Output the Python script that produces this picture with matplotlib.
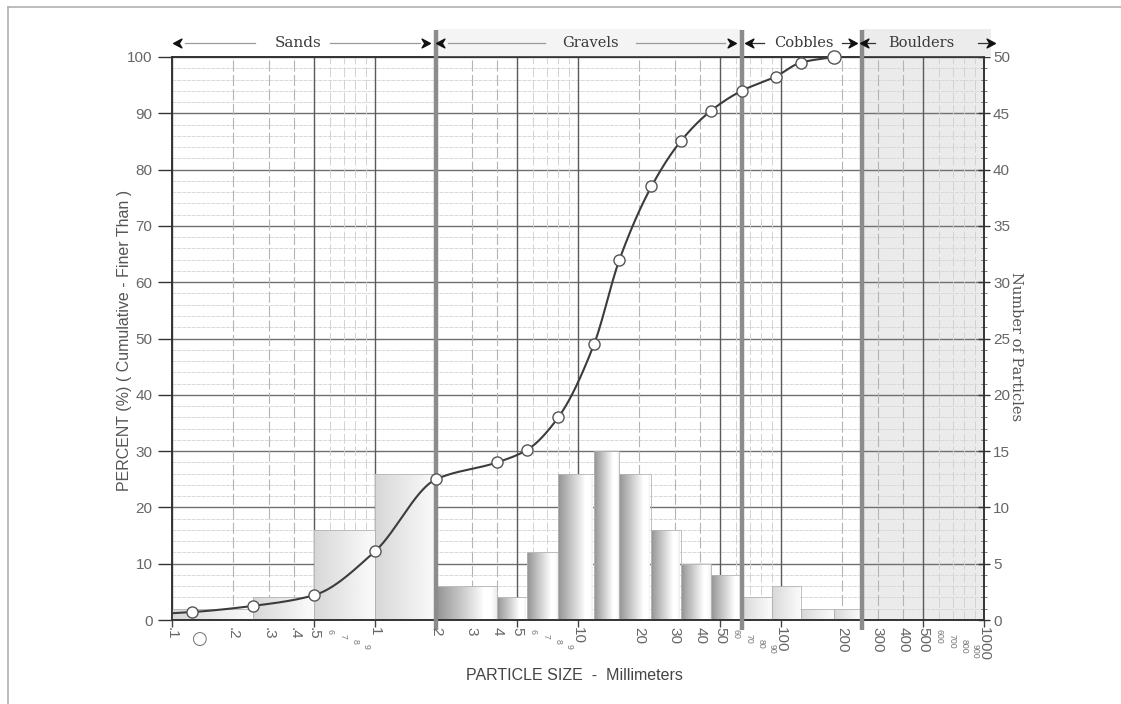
import numpy as np
import matplotlib
matplotlib.use("Agg")
import matplotlib.pyplot as plt
from matplotlib.transforms import blended_transform_factory
from matplotlib.path import Path
from matplotlib.lines import Line2D
from matplotlib.patches import Rectangle
from matplotlib.ticker import NullLocator

# ---- particle-count histogram (size classes, mm) ----
bin_edges = [0.1, 0.25, 0.5, 1, 2, 4, 5.6, 8, 12, 16, 23, 32, 45, 64, 90, 125, 182, 250]
particle_counts = [1, 2, 8, 13, 3, 2, 6, 13, 15, 13, 8, 5, 4, 2, 3, 1, 1]
bar_style = ["sand"] * 4 + ["gravel"] * 9 + ["sand"] * 4

# ---- cumulative percent finer than ----
sieve_sizes = [0.125, 0.25, 0.5, 1, 2, 4, 5.6, 8, 12, 16, 23, 32, 45, 64, 94, 125, 182]
percent_finer = [1.4, 2.5, 4.4, 12.2, 25, 28, 30.2, 36, 49, 64, 77, 85, 90.4, 94, 96.5, 99, 100]
curve_start = (0.1, 1.2)

# ---- size classes ----
class_bounds = [2, 64, 250]
class_names = ["Sands", "Gravels", "Cobbles", "Boulders"]

# ---- x tick labels ----
main_ticks = [0.1, 0.2, 0.3, 0.4, 0.5, 1, 2, 3, 4, 5, 10, 20, 30, 40, 50,
              100, 200, 300, 400, 500, 1000]
main_labels = [".1", ".2", ".3", ".4", ".5", "1", "2", "3", "4", "5", "10", "20",
               "30", "40", "50", "100", "200", "300", "400", "500", "1000"]
small_ticks = [[0.6, 0.7, 0.8, 0.9], [6, 7, 8, 9], [60, 70, 80, 90], [600, 700, 800, 900]]
small_labels = [["6", "7", "8", "9"], ["6", "7", "8", "9"],
                ["60", "70", "80", "90"], ["600", "700", "800", "900"]]

SANS = ["Liberation Sans", "DejaVu Sans"]
SERIF = ["DejaVu Serif"]
plt.rcParams["font.family"] = SANS

W, H = 1121, 704
fig = plt.figure(figsize=(W / 100, H / 100), dpi=100)
fig.patch.set_facecolor("white")

left, right, top, bottom = 172, 984, 57, 620
ax = fig.add_axes([left / W, 1 - bottom / H, (right - left) / W, (bottom - top) / H])
axc = ax.twinx()
ax.set_zorder(2)
axc.set_zorder(1)
ax.patch.set_visible(False)

ax.set_xscale("log")
ax.set_xlim(0.1, 1000)
ax.set_ylim(0, 100)
axc.set_ylim(0, 50)

# ---- background grid (drawn on the count axes so bars sit on top) ----
axc.axvspan(class_bounds[2], 1000, color="#ebebeb", zorder=0.5, lw=0)
for c in range(0, 51):
    if c % 5 == 0:
        axc.axhline(c, color="#707070", lw=1.0, zorder=1)
    else:
        axc.axhline(c, color="#d9d9d9", lw=0.7, ls=(0, (4, 1)), zorder=1)
for dec in [0.1, 1, 10, 100]:
    for k in range(1, 10):
        v = dec * k
        if k in (1, 5):
            axc.axvline(v, color="#5a5a5a", lw=1.0, zorder=1)
        elif k in (2, 3, 4):
            axc.axvline(v, color="#b4b4b4", lw=0.8, ls=(0, (10, 3)), zorder=1)
        else:
            axc.axvline(v, color="#d2d2d2", lw=0.7, ls=(0, (10, 3)), zorder=1)


def shade(kind, n=96):
    t = np.linspace(0, 1, n)
    if kind == "sand":
        v = 0.84 + 0.13 * np.clip(t / 0.85, 0, 1) ** 0.8
    else:
        v = 0.58 + 0.42 * np.clip(t / 0.72, 0, 1) ** 0.9
        v = np.where(t > 0.86, v - (t - 0.86) * 0.6, v)
    return v[None, :]


# ---- histogram bars ----
for x0, x1, cnt, kind in zip(bin_edges[:-1], bin_edges[1:], particle_counts, bar_style):
    axc.imshow(shade(kind), extent=(x0, x1, 0, cnt), cmap="gray", vmin=0, vmax=1,
               aspect="auto", interpolation="bilinear", zorder=2)
    axc.bar(x0, cnt, width=x1 - x0, align="edge", fill=False,
            edgecolor="#b4b4b4", lw=0.6, zorder=3)
ax.set_xlim(0.1, 1000)
axc.set_ylim(0, 50)

# ---- class boundary bars ----
xt = blended_transform_factory(ax.transData, ax.transAxes)
for b in class_bounds:
    ax.plot([b, b], [-0.018, 1.048], transform=xt, color="#8c8c8c", lw=3.2,
            solid_capstyle="butt", clip_on=False, zorder=3)

# header band
for x0, x1, col in [(2, 64, "#f4f4f4"), (250, 1080, "#ececec")]:
    ax.add_patch(Rectangle((x0, 1.0), x1 - x0, 0.05, transform=xt, facecolor=col,
                           edgecolor="none", clip_on=False, zorder=0))

left_head = Path([(-1, 0), (0.7, 0.9), (0.15, 0), (0.7, -0.9), (-1, 0)],
                 [Path.MOVETO, Path.LINETO, Path.LINETO, Path.LINETO, Path.CLOSEPOLY])
right_head = Path([(1, 0), (-0.7, 0.9), (-0.15, 0), (-0.7, -0.9), (1, 0)],
                  [Path.MOVETO, Path.LINETO, Path.LINETO, Path.LINETO, Path.CLOSEPOLY])

hy = 1.025
headers = [
    (class_names[0], 0.107, 0.116, 0.256, 0.418, 0.60, 1.67, 1.76, "#9a9a9a"),
    (class_names[1], 2.11, 2.29, 6.88, 11.5, 19.3, 53, 56.7, "#9a9a9a"),
    (class_names[2], 70.3, 70.3, 82, 129, 200, 218, 224, "#333333"),
    (class_names[3], 259, 259, 292, 490, 930, 1050, 1071, "#333333"),
]
for name, lh, a0, a1, xc, b0, b1, rh, lc in headers:
    ax.plot([a0, a1], [hy, hy], transform=xt, color=lc, lw=0.9, clip_on=False, zorder=4)
    ax.plot([b0, b1], [hy, hy], transform=xt, color=lc, lw=0.9, clip_on=False, zorder=4)
    ax.plot([lh], [hy], transform=xt, marker=left_head, ms=7, color="#111111",
            clip_on=False, zorder=5)
    ax.plot([rh], [hy], transform=xt, marker=right_head, ms=7, color="#111111",
            clip_on=False, zorder=5)
    ax.text(xc, hy, name, transform=xt, ha="center", va="center",
            fontsize=11 if len(name) < 7 else 10.5,
            family=SERIF, color="#3a3a3a", zorder=5)


# ---- cumulative curve ----
def monotone_cubic(x, y, xn):
    x = np.asarray(x, float)
    y = np.asarray(y, float)
    h = np.diff(x)
    d = np.diff(y) / h
    m = np.zeros_like(y)
    for k in range(1, len(x) - 1):
        if d[k - 1] * d[k] > 0:
            w1 = 2 * h[k] + h[k - 1]
            w2 = h[k] + 2 * h[k - 1]
            m[k] = (w1 + w2) / (w1 / d[k - 1] + w2 / d[k])
    m[0] = d[0]
    m[-1] = d[-1]
    i = np.clip(np.searchsorted(x, xn) - 1, 0, len(h) - 1)
    t = (xn - x[i]) / h[i]
    h00 = 2 * t**3 - 3 * t**2 + 1
    h10 = t**3 - 2 * t**2 + t
    h01 = -2 * t**3 + 3 * t**2
    h11 = t**3 - t**2
    return h00 * y[i] + h10 * h[i] * m[i] + h01 * y[i + 1] + h11 * h[i] * m[i + 1]


cx = np.log10([curve_start[0]] + sieve_sizes)
cy = [curve_start[1]] + percent_finer
xs = np.linspace(cx[0], cx[-1], 600)
ax.plot(10 ** xs, monotone_cubic(cx, cy, xs), color="#3c3c3c", lw=1.5, zorder=6)
ax.plot(sieve_sizes[:-1], percent_finer[:-1], "o", ms=8, mfc="white", mec="#555555",
        mew=1.0, zorder=7)
ax.plot(sieve_sizes[-1:], percent_finer[-1:], "o", ms=9.5, mfc="white", mec="#555555",
        mew=1.0, zorder=7, clip_on=False)

# ---- axes, ticks, labels ----
ax.set_xticks([0.1, 0.5, 1, 5, 10, 50, 100, 500, 1000])
ax.set_xticklabels([])
ax.xaxis.set_minor_locator(NullLocator())
ax.tick_params(axis="x", direction="out", length=5, width=1.0, color="#444444")
ax.set_yticks(range(0, 101, 10))
ax.tick_params(axis="y", direction="out", length=10, width=1.0, color="#333333",
               labelsize=11, labelcolor="#666666", pad=4)
axc.set_yticks(range(0, 51, 5))
axc.set_yticks(range(0, 51), minor=True)
axc.tick_params(axis="y", which="major", direction="inout", length=9, width=1.0,
                color="#333333", labelsize=11, labelcolor="#666666", pad=2)
axc.tick_params(axis="y", which="minor", direction="inout", length=4, width=0.7,
                color="#777777")
for a in (ax, axc):
    for s in a.spines.values():
        s.set_color("#333333")
        s.set_linewidth(1.2)

y0 = -0.013
for v, lab in zip(main_ticks, main_labels):
    ax.text(v, y0, lab, transform=xt, rotation=270, ha="center", va="top",
            fontsize=11, color="#666666")
for group, labs in zip(small_ticks, small_labels):
    for j, (v, lab) in enumerate(zip(group, labs)):
        ax.text(v, y0 - 0.003 - 0.009 * j, lab, transform=xt, rotation=270,
                ha="center", va="top", fontsize=6.3, color="#777777")
ax.text(0.136, y0 - 0.005, "\u25cb", transform=xt, ha="center", va="top",
        fontsize=13, color="#777777", family=["DejaVu Sans"])

fig.text(125 / W, 1 - 340 / H, "PERCENT (%) ( Cumulative - Finer Than )", rotation=90,
         ha="center", va="center", fontsize=11.5, color="#555555")
fig.text(574 / W, 1 - 676 / H, "PARTICLE SIZE  -  Millimeters", ha="center",
         va="center", fontsize=11.5, color="#444444")
fig.text(1016 / W, 1 - 347 / H, "Number of Particles", rotation=270, ha="center",
         va="center", fontsize=10.5, family=SERIF, color="#555555")

# page frame
fig.add_artist(Line2D([8 / W, 1], [1 - 7 / H, 1 - 7 / H], transform=fig.transFigure,
                      color="#b0b0b0", lw=1.2))
fig.add_artist(Line2D([8 / W, 8 / W], [0, 1 - 7 / H], transform=fig.transFigure,
                      color="#b0b0b0", lw=1.2))

fig.savefig("out.png", dpi=100, facecolor="white")
